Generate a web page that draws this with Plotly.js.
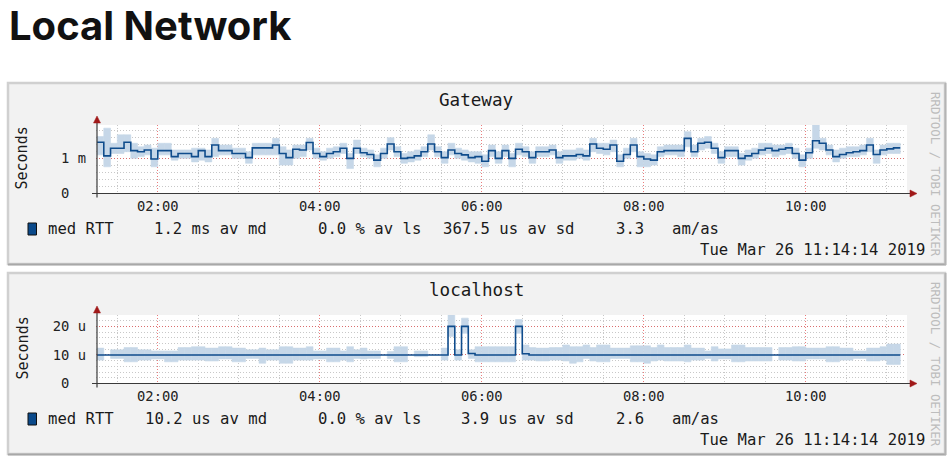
<!DOCTYPE html>
<html><head><meta charset="utf-8">
<script src="https://cdn.plot.ly/plotly-3.0.1.min.js"></script>
<style>html,body{margin:0;padding:0;background:#fff;overflow:hidden}#chart{width:952px;height:464px}</style>
</head><body><div id="chart"></div><script>
// ---------------- data ----------------
const pageTitle = 'Local Network';
const panelTitles = ['Gateway', 'localhost'];
const timeTicks = ['02:00', '04:00', '06:00', '08:00', '10:00'];
const timeTickVals = ['2019-03-26 02:00', '2019-03-26 04:00', '2019-03-26 06:00', '2019-03-26 08:00', '2019-03-26 10:00'];
const rangeStart = '2019-03-26 01:14:14';
const rangeEnd = '2019-03-26 11:14:14';
const firstStepMinute = 75;   // 01:15
const stepMinutes = 5;

// Gateway (milliseconds)
const gwMedian = [1.46,1.07,1.29,1.29,1.46,1.22,1.19,1.24,0.98,1.22, 1.22,1.05,1.14,1.14,1.05,1.22,1.05,1.38,1.22,1.22,
  1.14,1.14,1.02,1.30,1.30,1.30,1.38,1.14,1.02,1.26, 1.24,1.45,1.14,1.05,1.14,1.19,1.29,1.00,1.29,1.16,
  1.11,0.95,1.14,1.41,1.19,1.00,1.02,1.07,1.19,1.41, 1.19,1.02,1.24,1.14,1.10,1.02,1.05,0.92,1.22,1.00,
  1.22,1.00,1.26,1.19,1.02,1.19,1.19,1.24,1.02,1.07, 1.07,1.11,1.07,1.41,1.29,1.26,1.38,0.92,1.11,1.38,
  1.05,0.98,0.95,1.19,1.22,1.22,1.22,1.57,1.19,1.43, 1.46,1.29,1.02,1.22,1.22,1.00,1.07,1.14,1.24,1.29,
  1.22,1.26,1.30,1.14,0.95,1.16,1.50,1.43,1.24,1.05, 1.11,1.16,1.19,1.22,1.38,1.11,1.24,1.27,1.30];
const gwSmokeHigh = [1.62,1.86,1.43,1.67,1.67,1.43,1.33,1.38,1.29,1.43, 1.43,1.24,1.24,1.24,1.29,1.29,1.24,1.57,1.38,1.38,
  1.29,1.29,1.19,1.43,1.43,1.43,1.57,1.33,1.24,1.38, 1.38,1.57,1.29,1.19,1.29,1.33,1.43,1.14,1.52,1.29,
  1.24,1.10,1.29,1.59,1.33,1.14,1.19,1.24,1.33,1.67, 1.33,1.19,1.43,1.29,1.24,1.19,1.19,1.10,1.38,1.19,
  1.38,1.14,1.43,1.33,1.19,1.33,1.33,1.38,1.19,1.24, 1.24,1.29,1.24,1.57,1.43,1.43,1.52,1.10,1.29,1.57,
  1.19,1.14,1.10,1.33,1.38,1.38,1.38,1.76,1.38,1.57, 1.62,1.43,1.19,1.33,1.33,1.14,1.24,1.29,1.43,1.43,
  1.38,1.38,1.43,1.29,1.10,1.29,1.95,1.57,1.38,1.24, 1.29,1.33,1.33,1.38,1.57,1.24,1.38,1.43,1.43];
const gwSmokeLow = [1.10,0.76,1.14,1.14,1.19,1.00,1.05,1.10,0.76,1.10, 1.10,0.95,1.00,1.00,0.90,0.95,0.90,1.05,1.10,1.10,
  1.00,1.00,0.86,1.10,1.10,1.10,1.10,0.81,0.81,1.00, 1.05,1.24,1.00,0.95,1.00,1.05,1.14,0.71,1.14,1.05,
  1.00,0.76,1.00,1.24,1.05,0.86,0.90,0.95,1.05,1.24, 1.05,0.86,1.10,1.00,0.95,0.90,0.86,0.76,1.05,0.86,
  1.05,0.76,1.10,1.05,0.86,1.05,1.05,1.10,0.86,0.95, 0.95,1.00,0.95,1.19,1.14,1.10,1.19,0.76,1.00,1.19,
  0.76,0.76,0.81,1.05,1.10,1.10,1.05,1.33,1.05,1.24, 1.29,1.14,0.86,1.05,1.05,0.81,0.95,1.00,1.10,1.14,
  1.05,1.10,1.14,1.00,0.76,1.00,1.29,1.24,1.10,0.90, 1.00,1.05,1.05,1.10,1.19,0.86,1.10,1.14,1.14];

// localhost (microseconds)
const lhMedian = [10,10,10,10,10,10,10,10,10,10, 10,10,10,10,10,10,10,10,10,10,
  10,10,10,10,10,10,10,10,10,10, 10,10,10,10,10,10,10,10,10,10,
  10,10,10,10,10,10,10,10,10,10, 10,10,20,10,20,10.5,10,10,10,10,
  10,10,20,10.4,10,10,10,10,10,10, 10,10,10,10,10,10,10,10,10,10,
  10,10,10,10,10,10,10,10,10,10, 10,10,10,10,10,10,10,10,10,10,
  10,10,10,10,10,10,10,10,10,10, 10,10,10,10,10,10,10,10,10];
const lhSmokeHigh = [12.4,null,11.8,11.8,12.6,12.6,11.8,11.8,11.4,11.4, 11.4,11.4,12.6,12.6,12.9,12.9,12.4,12.4,12.9,12.9,
  12.4,12.4,11.8,11.8,12.4,11.8,11.8,12.9,12.9,12.4, 12.4,12.9,11.4,11.4,12.4,12.4,11.4,12.9,11.8,12.4,
  11.4,11.4,null,11.2,12.9,12.9,null,11.4,11.4,null, null,12.4,24.1,11.8,22.9,11.8,12.9,12.9,12.9,12.9,
  12.9,12.9,22.4,13.5,12.6,12.4,12.4,12.6,12.6,13.5, 12.9,12.9,13.5,12.6,13.5,13.5,12.4,12.4,12.4,13.2,
  13.2,13.2,12.6,13.5,12.6,12.6,12.6,13.5,12.4,12.4, 11.4,12.9,12.1,12.1,13.5,13.5,12.6,12.6,12.6,12.6,
  null,12.6,12.6,12.9,12.9,12.4,12.4,12.4,12.9,12.9, 12.4,12.4,11.4,11.4,12.4,12.4,12.9,13.8,13.8];
const lhSmokeLow = [8.2,null,8.8,8.8,7.6,7.6,8.2,8.2,8.6,8.6, 7.6,7.6,8.2,8.2,8.2,8.2,7.9,7.9,8.6,8.6,
  7.6,7.6,8.8,8.8,7.1,8.2,8.2,7.1,7.1,8.2, 8.2,8.2,8.6,8.6,7.6,7.6,8.2,7.6,8.8,8.6,
  8.8,8.8,null,8.8,7.6,7.6,null,9.4,9.4,null, null,8.2,16.5,8.2,17.6,8.8,7.6,7.6,7.6,7.6,
  7.6,7.6,17.6,8.2,8.2,7.9,7.9,8.2,8.2,7.9, 7.1,7.6,8.8,7.9,7.6,7.6,8.8,8.8,8.8,7.6,
  7.6,7.1,7.9,8.2,7.9,7.9,7.9,7.6,8.2,8.2, 8.8,7.9,8.6,8.6,7.6,7.6,7.9,7.9,7.9,7.9,
  null,8.2,8.2,7.9,7.9,8.6,8.6,8.6,7.6,7.6, 8.2,8.2,8.8,8.8,7.9,7.9,8.2,6.7,6.7];

const gwYTickVals = [0, 1];
const gwYTickText = ['0\u00a0\u00a0', '1 m'];
const gwYMax = 1.95;
const lhYTickVals = [0, 10, 20];
const lhYTickText = ['0\u00a0\u00a0', '10 u', '20 u'];
const lhYMax = 24;
const gwLegend = ['med RTT', '1.2 ms av md', '0.0 % av ls', '367.5 us av sd', '3.3', 'am/as'];
const lhLegend = ['med RTT', '10.2 us av md', '0.0 % av ls', '3.9 us av sd', '2.6', 'am/as'];
const stampText = 'Tue Mar 26 11:14:14 2019';
const yTitle = 'Seconds';
const watermark = 'RRDTOOL / TOBI OETIKER';

// ---------------- helpers ----------------
const W = 952, H = 464;
const px = x => x / W;
const py = y => 1 - y / H;
const pad = n => String(n).padStart(2, '0');
const tstr = m => '2019-03-26 ' + pad(Math.floor(m / 60)) + ':' + pad(m % 60) + ':00';
const nSteps = gwMedian.length;
const stepX = gwMedian.map((_, i) => tstr(firstStepMinute + i * stepMinutes));
const lineX = stepX.concat([tstr(firstStepMinute + nSteps * stepMinutes)]);
const halfHours = [];
for (let m = 90; m <= 660; m += 30) if (m % 120 !== 0) halfHours.push(tstr(m));

const MONO = 'DejaVu Sans Mono';
const SMOKE = '#c6d7e8';
const MED = '#0f4c8c';

function smokeTrace(hi, lo, xa, ya) {
  return {
    type: 'bar', x: stepX, base: lo.map(v => v),
    y: hi.map((h, i) => (h === null || lo[i] === null) ? null : h - lo[i]),
    width: stepMinutes * 60000, offset: 0, xaxis: xa, yaxis: ya,
    marker: {color: SMOKE, line: {color: SMOKE, width: 0.6}}, hoverinfo: 'skip'
  };
}
function medTrace(vals, xa, ya) {
  return {
    type: 'scatter', mode: 'lines', x: lineX, y: vals.concat([vals[vals.length - 1]]),
    line: {shape: 'hv', color: MED, width: 1.6}, xaxis: xa, yaxis: ya, hoverinfo: 'skip'
  };
}

const panels = [
  {off: 0, plotTop: 125, plotBottom: 193.5},
  {off: 190, plotTop: 315, plotBottom: 383.5}
];
const X0 = 96, X1 = 906;

function xAxis(anchor) {
  return {
    type: 'date', domain: [px(X0), px(X1)], range: [rangeStart, rangeEnd], anchor: anchor,
    tickmode: 'array', tickvals: timeTickVals, ticktext: timeTicks,
    showgrid: true, gridcolor: 'rgba(225,70,70,0.7)', griddash: '1px,2px', gridwidth: 1,
    minor: {tickmode: 'array', tickvals: halfHours, showgrid: true, gridcolor: '#c8c8c8', griddash: '1px,2px', gridwidth: 1, ticks: ''},
    showline: false, zeroline: false, ticks: '', ticklabelstandoff: 3,
    tickfont: {family: MONO, size: 13.8, color: '#222'}, fixedrange: true
  };
}
function yAxis(anchor, p, max, vals, text, minorStep) {
  const mv = [];
  for (let v = minorStep; v < max - 1e-9; v += minorStep) mv.push(+v.toFixed(4));
  return {
    domain: [py(p.plotBottom), py(p.plotTop)], range: [0, max], anchor: anchor,
    tickmode: 'array', tickvals: vals, ticktext: text,
    showgrid: true, gridcolor: 'rgba(225,70,70,0.7)', griddash: '1px,2px', gridwidth: 1,
    minor: {tickmode: 'array', tickvals: mv, showgrid: true, gridcolor: '#c8c8c8', griddash: '1px,2px', gridwidth: 1, ticks: ''},
    showline: false, zeroline: false, ticks: '', ticklabelstandoff: 9,
    tickfont: {family: MONO, size: 13.8, color: '#222'}, fixedrange: true
  };
}

const shapes = [];
const annotations = [];
annotations.push({xref: 'paper', yref: 'paper', x: px(7), y: py(26), xanchor: 'left', yanchor: 'middle',
  text: pageTitle, showarrow: false, font: {family: 'Inter', size: 40, weight: 700, color: '#111'}});

const legends = [gwLegend, lhLegend];
panels.forEach((p, k) => {
  const o = p.off;
  // panel box
  shapes.push({type: 'rect', xref: 'paper', yref: 'paper', layer: 'below', x0: px(8), x1: px(945), y0: py(264 + o), y1: py(83 + o),
    fillcolor: '#f2f2f2', line: {color: '#d0d0d0', width: 2.5}});
  shapes.push({type: 'line', xref: 'paper', yref: 'paper', layer: 'below', x0: px(8), x1: px(946), y0: py(264.5 + o), y1: py(264.5 + o),
    line: {color: '#a8a8a8', width: 2}});
  shapes.push({type: 'line', xref: 'paper', yref: 'paper', layer: 'below', x0: px(945.5), x1: px(945.5), y0: py(83 + o), y1: py(265 + o),
    line: {color: '#b4b4b4', width: 2}});
  // white canvas
  shapes.push({type: 'rect', xref: 'paper', yref: 'paper', layer: 'below', x0: px(X0 + 1), x1: px(907), y0: py(p.plotBottom), y1: py(p.plotTop),
    fillcolor: '#ffffff', line: {width: 0}});
  // axes
  shapes.push({type: 'line', xref: 'paper', yref: 'paper', layer: 'above', x0: px(92), x1: px(911), y0: py(p.plotBottom), y1: py(p.plotBottom),
    line: {color: '#3a3a3a', width: 1.2}});
  shapes.push({type: 'line', xref: 'paper', yref: 'paper', layer: 'above', x0: px(97), x1: px(97), y0: py(p.plotBottom + 4), y1: py(p.plotTop - 3),
    line: {color: '#3a3a3a', width: 1.2}});
  // arrows
  const ay = p.plotBottom;
  shapes.push({type: 'path', xref: 'paper', yref: 'paper', layer: 'above',
    path: `M ${px(910)} ${py(ay - 3.5)} L ${px(917)} ${py(ay)} L ${px(910)} ${py(ay + 3.5)} Z`,
    fillcolor: '#a01818', line: {color: '#a01818', width: 0.5}});
  shapes.push({type: 'path', xref: 'paper', yref: 'paper', layer: 'above',
    path: `M ${px(93.5)} ${py(p.plotTop - 2)} L ${px(97)} ${py(p.plotTop - 9)} L ${px(100.5)} ${py(p.plotTop - 2)} Z`,
    fillcolor: '#a01818', line: {color: '#a01818', width: 0.5}});
  // legend swatch
  shapes.push({type: 'rect', xref: 'paper', yref: 'paper', layer: 'above', x0: px(28), x1: px(36.5), y0: py(235 + o), y1: py(223 + o),
    fillcolor: '#0b4a8b', line: {color: '#111', width: 1}});

  const txt = (x, y, text, xa, extra) => Object.assign({xref: 'paper', yref: 'paper', x: px(x), y: py(y), xanchor: xa, yanchor: 'middle',
    text: text, showarrow: false, font: {family: MONO, size: 15.6, color: '#1a1a1a'}}, extra || {});
  annotations.push(txt(476, 100 + o, panelTitles[k], 'center', {font: {family: MONO, size: 17.6, color: '#1a1a1a'}}));
  annotations.push(Object.assign(txt(22, 158.5 + o, yTitle, 'center', {font: {family: MONO, size: 15, color: '#1a1a1a'}}), {textangle: -90}));
  annotations.push(Object.assign(txt(936, 174 + o, watermark, 'center', {font: {family: MONO, size: 12.4, color: '#bdbdbd'}}), {textangle: 90}));
  const L = legends[k];
  annotations.push(txt(46, 229 + o, L[0], 'left'));
  annotations.push(txt(269, 229 + o, L[1], 'right'));
  annotations.push(txt(423, 229 + o, L[2], 'right'));
  annotations.push(txt(576, 229 + o, L[3], 'right'));
  annotations.push(txt(614, 229 + o, L[4], 'left'));
  annotations.push(txt(670, 229 + o, L[5], 'left'));
  annotations.push(txt(927, 250 + o, stampText, 'right'));
});

const data = [
  smokeTrace(gwSmokeHigh, gwSmokeLow, 'x', 'y'),
  medTrace(gwMedian, 'x', 'y'),
  smokeTrace(lhSmokeHigh, lhSmokeLow, 'x2', 'y2'),
  medTrace(lhMedian, 'x2', 'y2')
];

const layout = {
  width: W, height: H, margin: {l: 0, r: 0, t: 0, b: 0},
  paper_bgcolor: '#ffffff', plot_bgcolor: 'rgba(0,0,0,0)',
  showlegend: false, hovermode: false, barmode: 'overlay', bargap: 0,
  xaxis: xAxis('y'), yaxis: yAxis('x', panels[0], gwYMax, gwYTickVals, gwYTickText, 0.2),
  xaxis2: xAxis('y2'), yaxis2: yAxis('x2', panels[1], lhYMax, lhYTickVals, lhYTickText, 2),
  shapes: shapes, annotations: annotations
};
Plotly.newPlot('chart', data, layout, {displayModeBar: false, staticPlot: true});
</script></body></html>
